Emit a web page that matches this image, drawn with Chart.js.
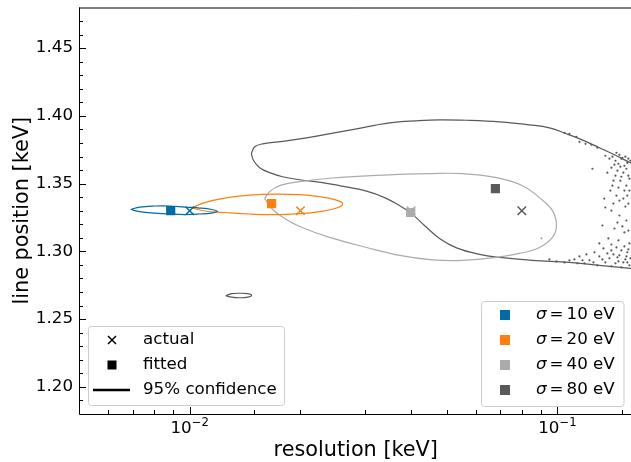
<!DOCTYPE html>
<html>
<head>
<meta charset="utf-8">
<script src="https://cdn.jsdelivr.net/npm/chart.js@4.4.1/dist/chart.umd.min.js"></script>
<style>
  html, body { margin: 0; padding: 0; background: #fff; overflow: hidden; }
  #wrap { width: 640px; height: 462px; }
</style>
</head>
<body>
<div id="wrap"><canvas id="chart" width="640" height="462"></canvas></div>
<script>
// line width (resolution) vs line position, one series per simulated sigma
const sigmaLabels = ['10 eV', '20 eV', '40 eV', '80 eV'];
const sigmaColors = ['#006BA4', '#FF800E', '#ABABAB', '#595959'];

const actualRes = [0.010, 0.020, 0.040, 0.080];
const actualPos = [1.33, 1.33, 1.33, 1.33];
const fittedRes = [0.00888, 0.0167, 0.0399, 0.0678];
const fittedPos = [1.3301, 1.3353, 1.3287, 1.3463];

// 95% confidence contours
const contour10X = [0.00691, 0.00731, 0.00803, 0.00882, 0.00969, 0.01065, 0.01148, 0.01191, 0.01148, 0.01065, 0.00969, 0.00882, 0.00803, 0.00731, 0.00691];
const contour10Y = [1.3309, 1.3327, 1.3335, 1.3335, 1.3327, 1.3320, 1.3309, 1.3294, 1.3283, 1.3276, 1.3272, 1.3276, 1.3283, 1.3294, 1.3309];

const contour20X = [0.01013, 0.01098, 0.01245, 0.01456, 0.01702, 0.01990, 0.02256, 0.02478, 0.02605, 0.02508, 0.02256, 0.01990, 0.01702, 0.01456, 0.01245, 0.01098, 0.01013];
const contour20Y = [1.3320, 1.3360, 1.3393, 1.3415, 1.3423, 1.3419, 1.3404, 1.3382, 1.3353, 1.3320, 1.3294, 1.3279, 1.3272, 1.3276, 1.3287, 1.3298, 1.3320];

const contour40X = [0.01599, 0.01650, 0.01756, 0.01991, 0.02401, 0.03346, 0.04490, 0.05519, 0.06827, 0.08032, 0.08933, 0.09692, 0.09938, 0.09692, 0.08933, 0.07883, 0.06827, 0.05519, 0.04575, 0.03721, 0.03027, 0.02401, 0.01991, 0.01812, 0.01681, 0.01599];
const contour40Y = [1.3390, 1.3441, 1.3485, 1.3515, 1.3540, 1.3563, 1.3574, 1.3574, 1.3544, 1.3485, 1.3397, 1.3301, 1.3191, 1.3103, 1.3029, 1.2985, 1.2956, 1.2934, 1.2938, 1.2971, 1.3029, 1.3103, 1.3184, 1.3243, 1.3309, 1.3390];
const dots40X = [0.09046];
const dots40Y = [1.3096];

const contour80X = [0.01471, 0.01502, 0.01579, 0.01812, 0.02080, 0.02431, 0.02844, 0.03182, 0.03496, 0.04087, 0.04780, 0.05767, 0.06956, 0.08391, 0.09512, 0.10579, 0.11841, 0.13004, 0.14286, 0.15787, 0.2, 0.2, 0.15787, 0.13004, 0.10780, 0.08550, 0.06956, 0.06138, 0.05316, 0.04780, 0.04350, 0.04011, 0.03721, 0.03389, 0.03027, 0.02638, 0.02298, 0.01991, 0.01789, 0.01650, 0.01550, 0.01493, 0.01471];
const contour80Y = [1.3721, 1.3772, 1.3794, 1.3814, 1.3838, 1.3871, 1.3904, 1.3930, 1.3949, 1.3963, 1.3971, 1.3967, 1.3956, 1.3934, 1.3912, 1.3868, 1.3816, 1.3765, 1.3713, 1.3654, 1.3515, 1.2846, 1.2875, 1.2897, 1.2919, 1.2934, 1.2956, 1.2978, 1.3026, 1.3096, 1.3191, 1.3279, 1.3338, 1.3397, 1.3445, 1.3478, 1.3507, 1.3529, 1.3551, 1.3581, 1.3618, 1.3669, 1.3721];
const island80X = [0.01253, 0.01300, 0.01367, 0.01438, 0.01474, 0.01438, 0.01367, 0.01300, 0.01253];
const island80Y = [1.2673, 1.2688, 1.2691, 1.2688, 1.2676, 1.2662, 1.2658, 1.2662, 1.2673];
// stray samples along the open right edge of the sigma = 80 eV region
const dots80X = [0.1045, 0.1078, 0.1126, 0.1148, 0.1192, 0.1237, 0.1284,
  0.1350, 0.1385, 0.1411, 0.1438, 0.1465, 0.1492, 0.1521, 0.1549, 0.1402, 0.1456, 0.1511, 0.1559, 0.1367, 0.1420, 0.1483, 0.1540, 0.1569, 0.1393, 0.1447, 0.1511, 0.1559,
  0.1350, 0.1402, 0.1474, 0.1540, 0.1325, 0.1429, 0.1521, 0.1376, 0.1465, 0.1569, 0.1300,
  0.1334, 0.1402, 0.1492, 0.1549, 0.1261, 0.1199, 0.1148, 0.1300, 0.1385, 0.1456, 0.1530, 0.1112, 0.1222, 0.1350, 0.1438, 0.1511, 0.1569, 0.1184, 0.1078, 0.1284, 0.1402, 0.1492,
  0.1245, 0.1341,
  0.1447, 0.1474, 0.1502, 0.1530, 0.1559, 0.1579, 0.1429, 0.1483, 0.1540, 0.1438, 0.1492, 0.1569, 0.1411, 0.1465, 0.1521, 0.1549, 0.1474, 0.1420, 0.1530,
  0.1456, 0.1502, 0.1559, 0.1402, 0.1447, 0.1521, 0.1559, 0.1420, 0.1474, 0.1540, 0.1579, 0.1325, 0.1367, 0.1465, 0.1549, 0.1253, 0.1170, 0.1133, 0.1045, 0.0994, 0.0951];
const dots80Y = [1.3875, 1.3868, 1.3846, 1.3809, 1.3794, 1.3787, 1.3765,
  1.3706, 1.3684, 1.3699, 1.3669, 1.3647, 1.3684, 1.3632, 1.3654, 1.3618, 1.3596, 1.3581, 1.3559, 1.3581, 1.3522, 1.3522, 1.3485, 1.3449, 1.3449, 1.3412, 1.3390, 1.3353,
  1.3324, 1.3301, 1.3265, 1.3228, 1.3191, 1.3169, 1.3140, 1.3096, 1.3081, 1.3059, 1.3059,
  1.3022, 1.3007, 1.3007, 1.2993, 1.2993, 1.2978, 1.2963, 1.2963, 1.2949, 1.2956, 1.2941, 1.2941, 1.2934, 1.2919, 1.2912, 1.2919, 1.2897, 1.2912, 1.2934, 1.2897, 1.2890, 1.2882,
  1.3610, 1.3390,
  1.3728, 1.3713, 1.3691, 1.3699, 1.3684, 1.3669, 1.3640, 1.3625, 1.3610, 1.3559, 1.3551, 1.3537, 1.3485, 1.3471, 1.3449, 1.3412, 1.3375, 1.3353, 1.3331,
  1.3213, 1.3184, 1.3154, 1.3051, 1.3029, 1.3037, 1.3015, 1.2978, 1.2971, 1.2963, 1.2949, 1.2941, 1.2985, 1.2926, 1.2919, 1.2919, 1.2934, 1.2912, 1.2919, 1.2926, 1.2941];

const decades = [0.01, 0.1];
const decadeExp = ['\u22122', '\u22121'];
const legendLeft = ['actual', 'fitted', '95% confidence'];

const FONT = '"DejaVu Sans", sans-serif';
const pts = (xs, ys) => xs.map((x, i) => ({ x, y: ys[i] }));
const isMajorY = v => Math.abs(v / 0.05 - Math.round(v / 0.05)) < 1e-6;
const isDecade = v => Math.abs(Math.log10(v) - Math.round(Math.log10(v))) < 1e-6;

function contour(xs, ys, color) {
  return {
    data: pts(xs, ys), showLine: true, borderColor: color, borderWidth: 1.2,
    pointRadius: 0, tension: 0.4, fill: false, order: 4
  };
}

function dots(xs, ys, color) {
  return {
    data: pts(xs, ys), showLine: false, pointRadius: 1.1,
    backgroundColor: color, borderWidth: 0, order: 4
  };
}

// inward ticks, spines, decade labels and both legends
const axesDecor = {
  id: 'axesDecor',
  afterDraw(chart) {
    const { ctx, chartArea: a, scales: { x, y } } = chart;
    ctx.save();
    ctx.strokeStyle = '#000';
    ctx.lineWidth = 1;
    ctx.beginPath();
    ctx.moveTo(a.left + 0.5, a.top);
    ctx.lineTo(a.left + 0.5, a.bottom + 0.5);
    ctx.lineTo(a.right, a.bottom + 0.5);
    ctx.moveTo(a.left, a.top + 0.5);
    ctx.lineTo(a.right, a.top + 0.5);
    x.ticks.forEach(t => {
      const px = Math.round(x.getPixelForValue(t.value)) + 0.5;
      if (px <= a.left + 1 || px >= a.right - 1) return;
      const len = isDecade(t.value) ? 7 : 4;
      ctx.moveTo(px, a.bottom);
      ctx.lineTo(px, a.bottom - len);
    });
    y.ticks.forEach(t => {
      const py = Math.round(y.getPixelForValue(t.value)) + 0.5;
      if (py <= a.top + 1 || py >= a.bottom - 1) return;
      const len = isMajorY(t.value) ? 7 : 4;
      ctx.moveTo(a.left, py);
      ctx.lineTo(a.left + len, py);
    });
    ctx.stroke();

    // 10^n labels
    ctx.fillStyle = '#000';
    ctx.textBaseline = 'alphabetic';
    ctx.textAlign = 'left';
    decades.forEach((v, i) => {
      const px = x.getPixelForValue(v);
      ctx.font = '16.7px ' + FONT;
      const wBase = ctx.measureText('10').width;
      ctx.font = '11.7px ' + FONT;
      const wExp = ctx.measureText(decadeExp[i]).width;
      const x0 = px - (wBase + wExp) / 2;
      ctx.font = '16.7px ' + FONT;
      ctx.fillText('10', x0, 433);
      ctx.font = '11.7px ' + FONT;
      ctx.fillText(decadeExp[i], x0 + wBase, 426);
    });

    // marker legend
    drawBox(ctx, 88.5, 326.5, 196, 79);
    ctx.strokeStyle = '#000';
    ctx.lineWidth = 1.5;
    ctx.beginPath();
    ctx.moveTo(108, 336); ctx.lineTo(116, 344);
    ctx.moveTo(108, 344); ctx.lineTo(116, 336);
    ctx.stroke();
    ctx.fillStyle = '#000';
    ctx.fillRect(107.5, 360.5, 9, 9);
    ctx.lineWidth = 2.6;
    ctx.beginPath();
    ctx.moveTo(93, 390); ctx.lineTo(130, 390);
    ctx.stroke();
    ctx.font = '16.7px ' + FONT;
    ctx.textBaseline = 'middle';
    legendLeft.forEach((t, i) => ctx.fillText(t, 143, 340 + 25 * i));

    // sigma legend
    drawBox(ctx, 481.5, 301.5, 142.5, 105);
    sigmaLabels.forEach((lab, i) => {
      const cy = 315 + 25 * i;
      ctx.fillStyle = sigmaColors[i];
      ctx.fillRect(500, cy - 5, 10, 10);
      ctx.fillStyle = '#000';
      let tx = 536;
      ctx.font = 'italic 16.7px ' + FONT;
      ctx.fillText('\u03c3', tx, cy);
      tx += ctx.measureText('\u03c3').width + 3;
      ctx.font = '16.7px ' + FONT;
      ctx.fillText('=', tx, cy);
      tx += ctx.measureText('=').width + 3;
      ctx.fillText(lab, tx, cy);
    });
    ctx.restore();
  }
};

function drawBox(ctx, x, y, w, h) {
  ctx.beginPath();
  ctx.roundRect(x, y, w, h, 3);
  ctx.fillStyle = 'rgba(255,255,255,0.8)';
  ctx.fill();
  ctx.strokeStyle = '#cccccc';
  ctx.lineWidth = 1;
  ctx.stroke();
}

new Chart(document.getElementById('chart'), {
  type: 'scatter',
  data: {
    datasets: [
      contour(contour10X, contour10Y, sigmaColors[0]),
      contour(contour20X, contour20Y, sigmaColors[1]),
      contour(contour40X, contour40Y, sigmaColors[2]),
      dots(dots40X, dots40Y, sigmaColors[2]),
      contour(contour80X, contour80Y, sigmaColors[3]),
      contour(island80X, island80Y, sigmaColors[3]),
      dots(dots80X, dots80Y, sigmaColors[3]),
      {
        data: pts(actualRes, actualPos), pointStyle: 'crossRot', pointRadius: 6,
        pointBorderColor: sigmaColors, pointBorderWidth: 1.5, order: 2
      },
      {
        data: pts(fittedRes, fittedPos), pointStyle: 'rect', pointRadius: 6.5,
        pointBackgroundColor: sigmaColors, pointBorderWidth: 0, order: 1
      }
    ]
  },
  options: {
    responsive: false,
    animation: false,
    devicePixelRatio: 1,
    layout: { padding: { top: 6, right: 7, left: 0, bottom: 0 } },
    elements: { line: { capBezierPoints: false } },
    plugins: { legend: { display: false }, tooltip: { enabled: false } },
    scales: {
      x: {
        type: 'logarithmic', min: 0.005, max: 0.16,
        grid: { display: false, drawTicks: false },
        border: { display: false },
        ticks: { display: false, autoSkip: false },
        title: {
          display: true, text: 'resolution [keV]', color: '#000',
          font: { family: FONT, size: 20.8, lineHeight: 1 }, padding: { top: 0, bottom: 1 }
        },
        afterFit: s => { s.height = 48; s.paddingLeft = 0; s.paddingRight = 0; }
      },
      y: {
        min: 1.18, max: 1.48,
        grid: { display: false, drawTicks: false },
        border: { display: false },
        ticks: {
          stepSize: 0.01, autoSkip: false, maxTicksLimit: 100, padding: 6, color: '#000',
          font: { family: FONT, size: 16.7 },
          callback: v => isMajorY(v) ? v.toFixed(2) : ''
        },
        title: {
          display: true, text: 'line position [keV]', color: '#000',
          font: { family: FONT, size: 20.8, lineHeight: 1 }, padding: { top: 12, bottom: 0 }
        },
        afterFit: s => { s.width = 79; s.paddingTop = 0; s.paddingBottom = 0; }
      }
    }
  },
  plugins: [axesDecor]
});
</script>
</body>
</html>
